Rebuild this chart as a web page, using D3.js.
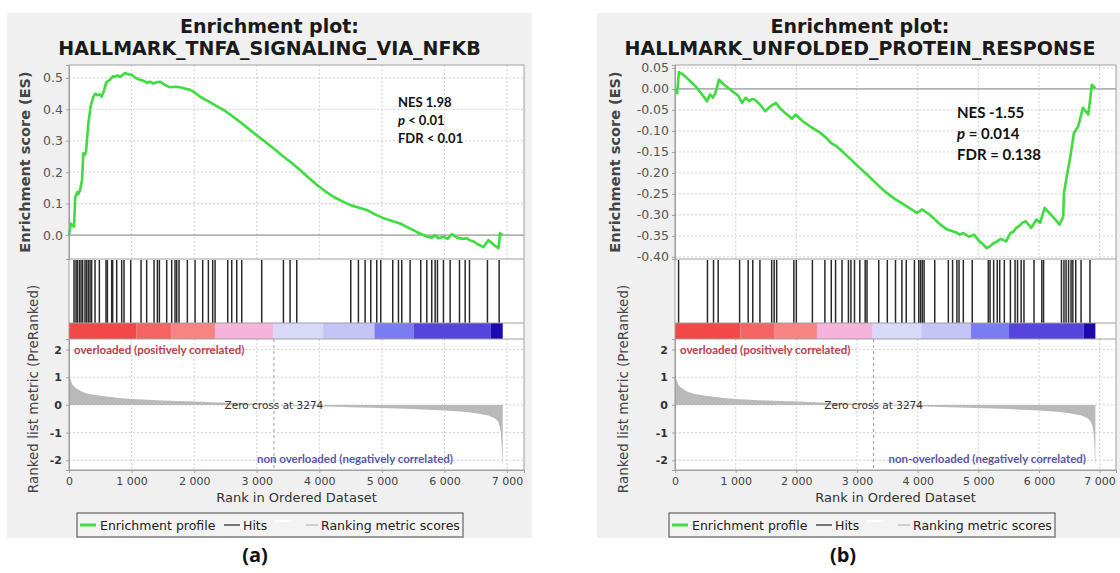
<!DOCTYPE html>
<html>
<head>
<meta charset="utf-8">
<script src="https://cdn.jsdelivr.net/npm/d3@7"></script>
<style>
  body { margin: 0; background: #fff; }
  svg { display: block; }
</style>
</head>
<body>
<div id="chart"></div>
<script>
// ---- data ----
const xTicks = [0, 1000, 2000, 3000, 4000, 5000, 6000, 7000];
const metricTicks = [-2, -1, 0, 1, 2];
const zeroCross = 3274;

// enrichment profile (a): [rank, ES]
const esA = [[0,0],[27,0.037],[55,0.03],[80,0.027],[100,0.12],[133,0.137],[150,0.13],[176,0.143],[208,0.175],[229,0.26],[250,0.255],[272,0.265],[309,0.355],[346,0.41],[389,0.44],[420,0.45],[452,0.445],[490,0.448],[522,0.44],[560,0.46],[591,0.484],[620,0.49],[655,0.494],[700,0.505],[735,0.503],[770,0.508],[815,0.503],[860,0.51],[895,0.516],[940,0.512],[1002,0.51],[1060,0.5],[1135,0.494],[1200,0.49],[1250,0.484],[1295,0.488],[1350,0.482],[1400,0.486],[1454,0.488],[1530,0.478],[1614,0.47],[1700,0.472],[1774,0.47],[1850,0.466],[1934,0.462],[2000,0.455],[2094,0.44],[2230,0.425],[2360,0.41],[2500,0.394],[2626,0.376],[2760,0.356],[2893,0.334],[3030,0.313],[3159,0.293],[3290,0.272],[3425,0.25],[3560,0.229],[3692,0.207],[3820,0.184],[3958,0.16],[4090,0.14],[4224,0.122],[4360,0.108],[4491,0.096],[4620,0.088],[4757,0.08],[4890,0.066],[5023,0.054],[5150,0.046],[5290,0.037],[5420,0.024],[5556,0.01],[5640,0.002],[5716,-0.005],[5800,-0.008],[5850,0.0],[5900,-0.01],[5982,-0.005],[6050,-0.012],[6116,0.003],[6200,-0.008],[6280,-0.012],[6356,-0.01],[6400,-0.016],[6462,-0.02],[6540,-0.03],[6622,-0.038],[6702,-0.016],[6780,-0.03],[6862,-0.042],[6888,0.006],[6930,0.0]];

// enrichment profile (b): [rank, ES]
const esB = [[0,-0.002],[35,-0.01],[65,0.04],[135,0.034],[240,0.02],[341,0.006],[440,-0.012],[529,-0.029],[576,-0.013],[624,-0.021],[665,-0.01],[724,0.022],[812,0.01],[930,-0.004],[1047,-0.017],[1106,-0.033],[1165,-0.021],[1224,-0.029],[1270,-0.024],[1312,-0.025],[1400,-0.037],[1488,-0.053],[1576,-0.041],[1665,-0.033],[1724,-0.045],[1812,-0.057],[1929,-0.071],[1988,-0.061],[2106,-0.077],[2224,-0.089],[2312,-0.097],[2400,-0.105],[2490,-0.116],[2576,-0.129],[2665,-0.137],[2753,-0.148],[2840,-0.16],[2929,-0.172],[3020,-0.185],[3106,-0.196],[3195,-0.208],[3282,-0.22],[3370,-0.232],[3459,-0.244],[3550,-0.254],[3635,-0.263],[3725,-0.271],[3812,-0.279],[3900,-0.287],[3988,-0.295],[4076,-0.287],[4194,-0.299],[4270,-0.309],[4341,-0.319],[4420,-0.328],[4488,-0.335],[4576,-0.339],[4640,-0.342],[4694,-0.347],[4753,-0.343],[4841,-0.352],[4929,-0.347],[5018,-0.363],[5080,-0.37],[5135,-0.379],[5194,-0.375],[5253,-0.367],[5312,-0.363],[5371,-0.357],[5459,-0.363],[5529,-0.343],[5580,-0.34],[5624,-0.331],[5680,-0.326],[5724,-0.319],[5782,-0.315],[5871,-0.331],[5959,-0.311],[6018,-0.319],[6094,-0.283],[6220,-0.303],[6341,-0.323],[6400,-0.303],[6412,-0.248],[6459,-0.208],[6518,-0.16],[6576,-0.105],[6647,-0.089],[6724,-0.045],[6812,-0.061],[6841,-0.029],[6871,0.01],[6929,0.002]];

// gene-set hit ranks
const hitsA = [80,112,133,165,192,218,256,282,309,336,362,416,485,591,613,682,698,762,842,879,986,1151,1241,1359,1412,1444,1561,1641,1694,1721,1758,1891,2014,2136,2227,2296,2334,2536,2600,2680,2760,3079,3426,3532,3639,4502,4624,4731,4822,4917,4981,5173,5264,5317,5450,5620,5717,5796,5850,5887,5983,6090,6239,6330,6399,6686,6873];
const hitsB = [59,535,635,712,1065,1206,1282,1400,1594,1635,1676,1959,2000,2265,2471,2576,2647,2753,2859,2900,2959,3047,3135,3165,3359,3500,3635,3741,3812,3947,4018,4047,4076,4106,4282,4506,4576,4647,4682,4753,4900,5165,5194,5253,5312,5353,5429,5529,5606,5647,5706,5753,5918,6047,6076,6371,6412,6447,6488,6529,6559,6606,6694,6841];

// ranked list metric (same ranked list in both plots)
const metricRank  = [0, 20, 50, 100, 200, 300, 500, 800, 1000, 1500, 2000, 2500, 3000, 3274, 3500, 4000, 4500, 5000, 5500, 6000, 6300, 6500, 6700, 6800, 6850, 6880, 6900, 6915, 6925, 6930];
const metricValue = [1.2, 0.95, 0.75, 0.62, 0.48, 0.4, 0.33, 0.25, 0.21, 0.16, 0.12, 0.08, 0.04, 0, -0.02, -0.05, -0.08, -0.11, -0.15, -0.2, -0.25, -0.3, -0.38, -0.48, -0.58, -0.75, -1.0, -1.5, -2.1, -2.1];

// colour bar bins (rank breaks)
const barBreaks = [0, 1076, 1635, 2340, 3260, 4060, 4880, 5505, 6740, 6930];
const barColors = ["#f24848", "#f56363", "#f88383", "#f5b4dc", "#d8d8f8", "#c4c4f6", "#7b7bf2", "#5545dc", "#1e08b0"];

const titlesA = ["Enrichment plot:", "HALLMARK_TNFA_SIGNALING_VIA_NFKB"];
const titlesB = ["Enrichment plot:", "HALLMARK_UNFOLDED_PROTEIN_RESPONSE"];
const statsA = [["NES 1.98"], ["p", " < 0.01"], ["FDR < 0.01"]];
const statsB = [["NES -1.55"], ["p", " = 0.014"], ["FDR = 0.138"]];
const esTicksA = [0, 0.1, 0.2, 0.3, 0.4, 0.5];
const esTicksB = [-0.4, -0.35, -0.3, -0.25, -0.2, -0.15, -0.1, -0.05, 0, 0.05];

// ---- drawing ----
const width = 1120, height = 573;
const svg = d3.select("#chart").append("svg")
  .attr("width", width).attr("height", height)
  .attr("font-family", "'DejaVu Sans', sans-serif");

const xMax = 7270;
const esTop = 65, esBot = 259, hitBot = 323, barBot = 339, metBot = 470;
const spaceFmt = d3.formatLocale({decimal: ".", thousands: " ", grouping: [3], currency: ["", ""], minus: "-"}).format(",");
const hyph = f => (d => d3.format(f)(d).replace("\u2212", "-"));

function panel(cfg) {
  const g = svg.append("g");
  g.append("rect").attr("x", cfg.px).attr("y", 13).attr("width", cfg.pw).attr("height", 525)
    .attr("fill", "#f0f0f0");

  const x = d3.scaleLinear().domain([0, xMax]).range([cfg.l, cfg.r]);
  const yE = d3.scaleLinear().domain(cfg.esDomain).range([esBot, esTop]);
  const yM = d3.scaleLinear().domain([-2.35, 2.38]).range([metBot, barBot]);
  const cx = cfg.px + cfg.pw / 2;

  // titles
  g.selectAll(".title").data(cfg.titles).join("text")
    .attr("x", cx).attr("y", (d, i) => 33 + i * 22)
    .attr("text-anchor", "middle").attr("font-weight", "bold").attr("font-size", 19)
    .attr("fill", "#1a1a1a").text(d => d);

  // plot background
  g.append("rect").attr("x", cfg.l).attr("y", esTop).attr("width", cfg.r - cfg.l).attr("height", metBot - esTop)
    .attr("fill", "#fff");

  // grids
  const grid = g.append("g").attr("stroke", "#d2d2d2").attr("stroke-dasharray", "2,2").attr("stroke-width", 1);
  xTicks.forEach(t => {
    grid.append("line").attr("x1", x(t)).attr("x2", x(t)).attr("y1", esTop).attr("y2", esBot);
    grid.append("line").attr("x1", x(t)).attr("x2", x(t)).attr("y1", barBot).attr("y2", metBot);
  });
  cfg.esTicks.forEach(t => grid.append("line").attr("x1", cfg.l).attr("x2", cfg.r).attr("y1", yE(t)).attr("y2", yE(t)));
  metricTicks.forEach(t => grid.append("line").attr("x1", cfg.l).attr("x2", cfg.r).attr("y1", yM(t)).attr("y2", yM(t)));

  // ES zero line
  g.append("line").attr("x1", cfg.l).attr("x2", cfg.r).attr("y1", yE(0)).attr("y2", yE(0))
    .attr("stroke", "#9a9a9a").attr("stroke-width", 1.2);

  // enrichment profile
  g.append("path").datum(cfg.es)
    .attr("fill", "none").attr("stroke", "#3edc3e").attr("stroke-width", 2.6)
    .attr("stroke-linejoin", "round")
    .attr("d", d3.line().x(d => x(d[0])).y(d => yE(d[1])));

  // hits
  g.append("g").selectAll("line").data(cfg.hits).join("line")
    .attr("x1", d => x(d)).attr("x2", d => x(d)).attr("y1", esBot + 1).attr("y2", hitBot)
    .attr("stroke", "#2a2a2a").attr("stroke-width", 1.5);

  // colour bar
  g.append("g").selectAll("rect").data(barColors).join("rect")
    .attr("x", (d, i) => x(barBreaks[i])).attr("width", (d, i) => x(barBreaks[i + 1]) - x(barBreaks[i]))
    .attr("y", hitBot).attr("height", barBot - hitBot).attr("fill", d => d);

  // ranked list metric
  const met = metricRank.map((r, i) => [r, metricValue[i]]);
  g.append("path").datum(met).attr("fill", "#b9b9b9")
    .attr("d", d3.area().x(d => x(d[0])).y0(yM(0)).y1(d => yM(d[1])));

  // zero cross
  g.append("line").attr("x1", x(zeroCross)).attr("x2", x(zeroCross)).attr("y1", barBot).attr("y2", metBot)
    .attr("stroke", "#999").attr("stroke-dasharray", "3,3");
  g.append("text").attr("x", x(zeroCross)).attr("y", yM(0) + 4).attr("text-anchor", "middle")
    .attr("font-size", 10.5).attr("fill", "#333").text("Zero cross at " + zeroCross);

  g.append("text").attr("x", cfg.l + 5).attr("y", 354)
    .attr("font-family", "Lato").attr("font-weight", "bold").attr("font-size", 11.5)
    .attr("fill", "#b8424c").text("overloaded (positively correlated)");
  g.append("text").attr("x", cfg.negEnd).attr("y", 463).attr("text-anchor", "end")
    .attr("font-family", "Lato").attr("font-weight", "bold").attr("font-size", 11.5)
    .attr("fill", "#5858a8").text(cfg.negLabel);

  // frame lines
  const frame = g.append("g").attr("fill", "none").attr("stroke", "#a0a0a0");
  frame.append("rect").attr("x", cfg.l).attr("y", esTop).attr("width", cfg.r - cfg.l).attr("height", metBot - esTop);
  [esBot, hitBot, barBot].forEach(yy => frame.append("line").attr("x1", cfg.l).attr("x2", cfg.r).attr("y1", yy).attr("y2", yy));

  // axes
  const axE = g.append("g").attr("transform", `translate(${cfg.l},0)`)
    .call(d3.axisLeft(yE).tickValues(cfg.esTicks).tickSize(3).tickPadding(3).tickFormat(hyph(cfg.esFmt)));
  axE.selectAll("text").attr("font-size", 12.5).attr("fill", "#555");
  const axM = g.append("g").attr("transform", `translate(${cfg.l},0)`)
    .call(d3.axisLeft(yM).tickValues(metricTicks).tickSize(3).tickPadding(4).tickFormat(hyph("d")));
  axM.selectAll("text").attr("font-size", 11).attr("fill", "#333").attr("font-weight", "bold");
  const axX = g.append("g").attr("transform", `translate(0,${metBot})`)
    .call(d3.axisBottom(x).tickValues(xTicks).tickSize(3).tickPadding(4).tickFormat(spaceFmt));
  axX.selectAll("text").attr("font-size", 11).attr("fill", "#444");
  [axE, axM, axX].forEach(a => {
    a.attr("font-family", null);
    a.select(".domain").attr("stroke", "#a0a0a0");
    a.selectAll(".tick line").attr("stroke", "#a0a0a0");
  });

  // axis titles
  g.append("text").attr("transform", `translate(${cfg.px + 23},${(esTop + esBot) / 2}) rotate(-90)`)
    .attr("text-anchor", "middle").attr("font-weight", "bold").attr("font-size", 14.5)
    .attr("fill", "#444").text("Enrichment score (ES)");
  g.append("text").attr("transform", `translate(${cfg.px + 31},389) rotate(-90)`)
    .attr("text-anchor", "middle").attr("font-size", 13.5)
    .attr("fill", "#444").text("Ranked list metric (PreRanked)");
  g.append("text").attr("x", (cfg.l + cfg.r) / 2).attr("y", 502).attr("text-anchor", "middle")
    .attr("font-size", 13).attr("fill", "#333").text("Rank in Ordered Dataset");

  // stats
  const st = g.append("text").attr("font-family", "Lato").attr("font-weight", "bold")
    .attr("font-size", cfg.statSize).attr("fill", "#111");
  cfg.stats.forEach((parts, i) => {
    const line = st.append("tspan").attr("x", cfg.statX).attr("y", cfg.statY + i * cfg.statGap);
    if (parts.length === 2) {
      line.append("tspan").attr("font-style", "italic").text(parts[0]);
      line.append("tspan").text(parts[1]);
    } else line.text(parts[0]);
  });

  // legend
  const lx = cfg.legX, ly = 513;
  const lg = g.append("g");
  lg.append("rect").attr("x", lx).attr("y", ly).attr("width", 386).attr("height", 24)
    .attr("fill", "#f3f3f3").attr("stroke", "#444");
  lg.append("line").attr("x1", lx + 3).attr("x2", lx + 19).attr("y1", ly + 12).attr("y2", ly + 12)
    .attr("stroke", "#44dd44").attr("stroke-width", 3);
  lg.append("text").attr("x", lx + 23).attr("y", ly + 17).attr("font-size", 12.5).attr("fill", "#222").text("Enrichment profile");
  lg.append("line").attr("x1", lx + 147).attr("x2", lx + 163).attr("y1", ly + 12).attr("y2", ly + 12)
    .attr("stroke", "#222").attr("stroke-width", 1.2);
  lg.append("text").attr("x", lx + 166).attr("y", ly + 17).attr("font-size", 12.5).attr("fill", "#222").text("Hits");
  lg.append("line").attr("x1", lx + 198).attr("x2", lx + 214).attr("y1", ly + 8).attr("y2", ly + 8)
    .attr("stroke", "#fff").attr("stroke-width", 2);
  lg.append("line").attr("x1", lx + 229).attr("x2", lx + 241).attr("y1", ly + 12).attr("y2", ly + 12)
    .attr("stroke", "#bbb").attr("stroke-width", 1.2);
  lg.append("text").attr("x", lx + 244).attr("y", ly + 17).attr("font-size", 12.5).attr("fill", "#222").text("Ranking metric scores");

  g.append("text").attr("x", cfg.labelX).attr("y", 562).attr("text-anchor", "middle")
    .attr("font-family", "'Open Sans', sans-serif")
    .attr("font-weight", "bold").attr("font-size", 20).attr("fill", "#111").text(cfg.label);
}

panel({px: 7, pw: 525, l: 69, r: 524, es: esA, hits: hitsA, titles: titlesA,
  esDomain: [-0.076, 0.541], esTicks: esTicksA, esFmt: ".1f",
  stats: statsA, statX: 398, statY: 107, statGap: 18, statSize: 13,
  negLabel: "non overloaded (negatively correlated)", negEnd: 453,
  legX: 77, label: "(a)", labelX: 255});

panel({px: 597, pw: 526, l: 675, r: 1116, es: esB, hits: hitsB, titles: titlesB,
  esDomain: [-0.405, 0.057], esTicks: esTicksB, esFmt: ".2f",
  stats: statsB, statX: 957, statY: 118, statGap: 21, statSize: 15,
  negLabel: "non-overloaded (negatively correlated)", negEnd: 1086,
  legX: 669, label: "(b)", labelX: 843});
</script>
</body>
</html>
